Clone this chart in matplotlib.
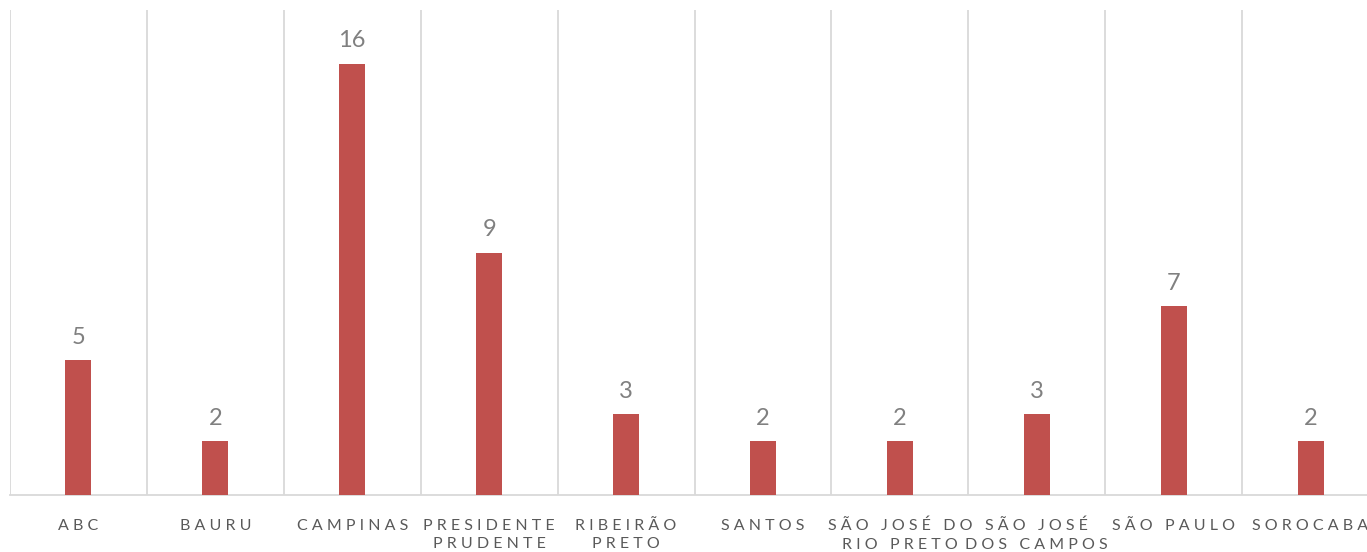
import matplotlib.pyplot as plt
import numpy as np

categories = ['ABC', 'BAURU', 'CAMPINAS', 'PRESIDENTE\nPRUDENTE', 'RIBEIRÃO\nPRETO',
              'SANTOS', 'SÃO JOSÉ DO\nRIO PRETO', 'SÃO JOSÉ\nDOS CAMPOS', 'SÃO PAULO', 'SOROCABA']
values = [5, 2, 16, 9, 3, 2, 2, 3, 7, 2]

BAR_COLOR = '#C0504D'
GRID_COLOR = '#D9D9D9'


def spaced(label):
    # emulate the letter-spacing of the original labels
    lines = []
    for line in label.split('\n'):
        words = [' '.join(w) for w in line.split(' ')]
        lines.append('   '.join(words))
    return '\n'.join(lines)


plt.rcParams['font.family'] = ['Lato', 'DejaVu Sans']

fig = plt.figure(figsize=(13.67, 5.52), dpi=100)
W, H = 1367, 552
left, right, top, bottom = 10, 1379, 10, 495
ax = fig.add_axes([left / W, 1 - bottom / H, (right - left) / W, (bottom - top) / H])

x = np.arange(len(categories))
ax.bar(x, values, width=0.19, color=BAR_COLOR, zorder=3)
for xi, v in zip(x, values):
    ax.annotate(str(v), (xi, v), xytext=(0, 9), textcoords='offset points',
                ha='center', va='bottom', fontsize=17, color='#808080')

ax.set_xlim(-0.5, len(categories) - 0.5)
ax.set_ylim(0, 18)

# vertical gridlines between categories
for b in np.arange(-0.5, len(categories), 1.0):
    ax.axvline(b, color=GRID_COLOR, linewidth=1.3, zorder=1)

ax.set_xticks(x)
ax.set_xticklabels([spaced(c) for c in categories], fontsize=11.5, color='#595959',
                   linespacing=1.4, va='top')
ax.tick_params(axis='x', length=0, pad=17)
ax.set_yticks([])
for s in ['top', 'right', 'left']:
    ax.spines[s].set_visible(False)
ax.spines['bottom'].set_color(GRID_COLOR)
ax.spines['bottom'].set_linewidth(1.3)

fig.savefig('out.png', dpi=100)
